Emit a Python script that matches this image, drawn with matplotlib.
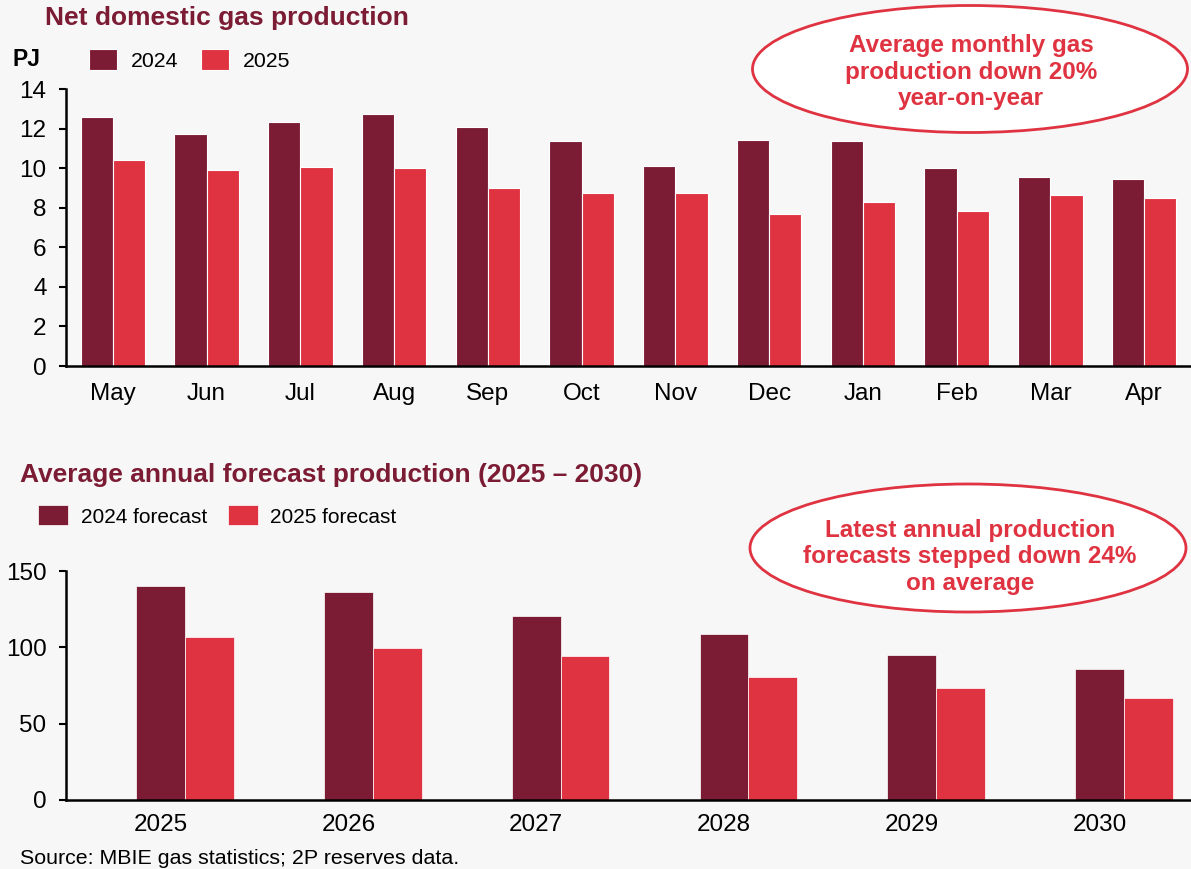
import numpy as np
import matplotlib.pyplot as plt
from matplotlib.patches import Ellipse

plt.rcParams['font.family'] = ['Liberation Sans', 'DejaVu Sans']

# Monthly net domestic gas production (PJ)
months = ['May', 'Jun', 'Jul', 'Aug', 'Sep', 'Oct', 'Nov', 'Dec', 'Jan', 'Feb', 'Mar', 'Apr']
prod_2024 = [12.6, 11.75, 12.35, 12.75, 12.1, 11.35, 10.1, 11.4, 11.35, 10.0, 9.55, 9.45]
prod_2025 = [10.4, 9.9, 10.05, 10.0, 9.0, 8.75, 8.75, 7.7, 8.3, 7.85, 8.65, 8.5]

# Annual forecast production (PJ)
years = ['2025', '2026', '2027', '2028', '2029', '2030']
fc_2024 = [140.5, 136.5, 120.5, 109, 95, 85.5]
fc_2025 = [106.5, 99.5, 94.5, 80.5, 73.5, 66.5]

dark = '#7B1C34'
red = '#DF3341'
bg = '#F7F7F7'
W, H = 1191, 869


def fx(px):
    return px / W


def fy(py):
    return 1 - py / H


fig = plt.figure(figsize=(W / 100, H / 100), dpi=100, facecolor=bg)

# ---------- top chart ----------
ax1 = fig.add_axes([fx(66), fy(366), fx(1191) - fx(66), fy(89) - fy(366)], facecolor=bg)
x = np.arange(len(months))
bw = 0.345
b1 = ax1.bar(x - bw / 2, prod_2024, bw, color=dark, edgecolor='white', linewidth=0.8, label='2024')
b2 = ax1.bar(x + bw / 2, prod_2025, bw, color=red, edgecolor='white', linewidth=0.8, label='2025')
ax1.set_xlim(-0.5, len(months) - 0.5)
ax1.set_ylim(0, 14)
ax1.set_yticks(range(0, 15, 2))
ax1.set_xticks(x)
ax1.set_xticklabels(months)
ax1.tick_params(axis='x', length=0, pad=12, labelsize=17.5)
ax1.tick_params(axis='y', length=5, width=1.5, pad=9, labelsize=17.5)
for s in ['top', 'right']:
    ax1.spines[s].set_visible(False)
for s in ['left', 'bottom']:
    ax1.spines[s].set_linewidth(1.8)

fig.text(fx(45), fy(18), 'Net domestic gas production', fontsize=19, fontweight='bold',
         color=dark, va='center', ha='left')
fig.text(fx(12), fy(60), 'PJ', fontsize=16.5, fontweight='bold', va='center', ha='left')
fig.legend(handles=[b1, b2], loc='center left', bbox_to_anchor=(fx(89), fy(60)), ncol=2,
           frameon=False, fontsize=15.3, handlelength=1.3, handleheight=1.1,
           handletextpad=0.65, columnspacing=1.1, borderaxespad=0, borderpad=0)

e1 = Ellipse((fx(970), fy(69)), fx(435), fy(0) - fy(127), transform=fig.transFigure,
             facecolor='white', edgecolor=red, linewidth=2, zorder=5)
fig.patches.append(e1)
fig.text(fx(971), fy(72), 'Average monthly gas\nproduction down 20%\nyear-on-year',
         fontsize=17.5, fontweight='bold', color=red, ha='center', va='center',
         linespacing=1.2, zorder=6)

# ---------- bottom chart ----------
ax2 = fig.add_axes([fx(66), fy(800), fx(1191) - fx(66), fy(571) - fy(800)], facecolor=bg)
x2 = np.arange(len(years))
bw2 = 0.26
c1 = ax2.bar(x2, fc_2024, bw2, color=dark, edgecolor='white', linewidth=0.5,
             label='2024 forecast')
c2 = ax2.bar(x2 + bw2, fc_2025, bw2, color=red, edgecolor='white', linewidth=0.5,
             label='2025 forecast')
ax2.set_xlim(-0.504, 5.487)
ax2.set_ylim(0, 150)
ax2.set_yticks([0, 50, 100, 150])
ax2.set_xticks(x2)
ax2.set_xticklabels(years)
ax2.tick_params(axis='x', length=0, pad=10, labelsize=17.5)
ax2.tick_params(axis='y', length=5, width=1.5, pad=9, labelsize=17.5)
for s in ['top', 'right']:
    ax2.spines[s].set_visible(False)
for s in ['left', 'bottom']:
    ax2.spines[s].set_linewidth(1.8)

fig.text(fx(20), fy(475), 'Average annual forecast production (2025 \u2013 2030)', fontsize=19,
         fontweight='bold', color=dark, va='center', ha='left')
fig.legend(handles=[c1, c2], loc='center left', bbox_to_anchor=(fx(38), fy(516)), ncol=2,
           frameon=False, fontsize=15, handlelength=1.45, handleheight=1.1,
           handletextpad=0.6, columnspacing=1.0, borderaxespad=0, borderpad=0)

e2 = Ellipse((fx(968), fy(548)), fx(436), fy(0) - fy(128), transform=fig.transFigure,
             facecolor='white', edgecolor=red, linewidth=2, zorder=5)
fig.patches.append(e2)
fig.text(fx(970), fy(557), 'Latest annual production\nforecasts stepped down 24%\non average',
         fontsize=17.5, fontweight='bold', color=red, ha='center', va='center',
         linespacing=1.2, zorder=6)

fig.text(fx(20), fy(858), 'Source: MBIE gas statistics; 2P reserves data.', fontsize=15.4,
         va='center', ha='left')

fig.savefig('out.png', dpi=100, facecolor=bg)
